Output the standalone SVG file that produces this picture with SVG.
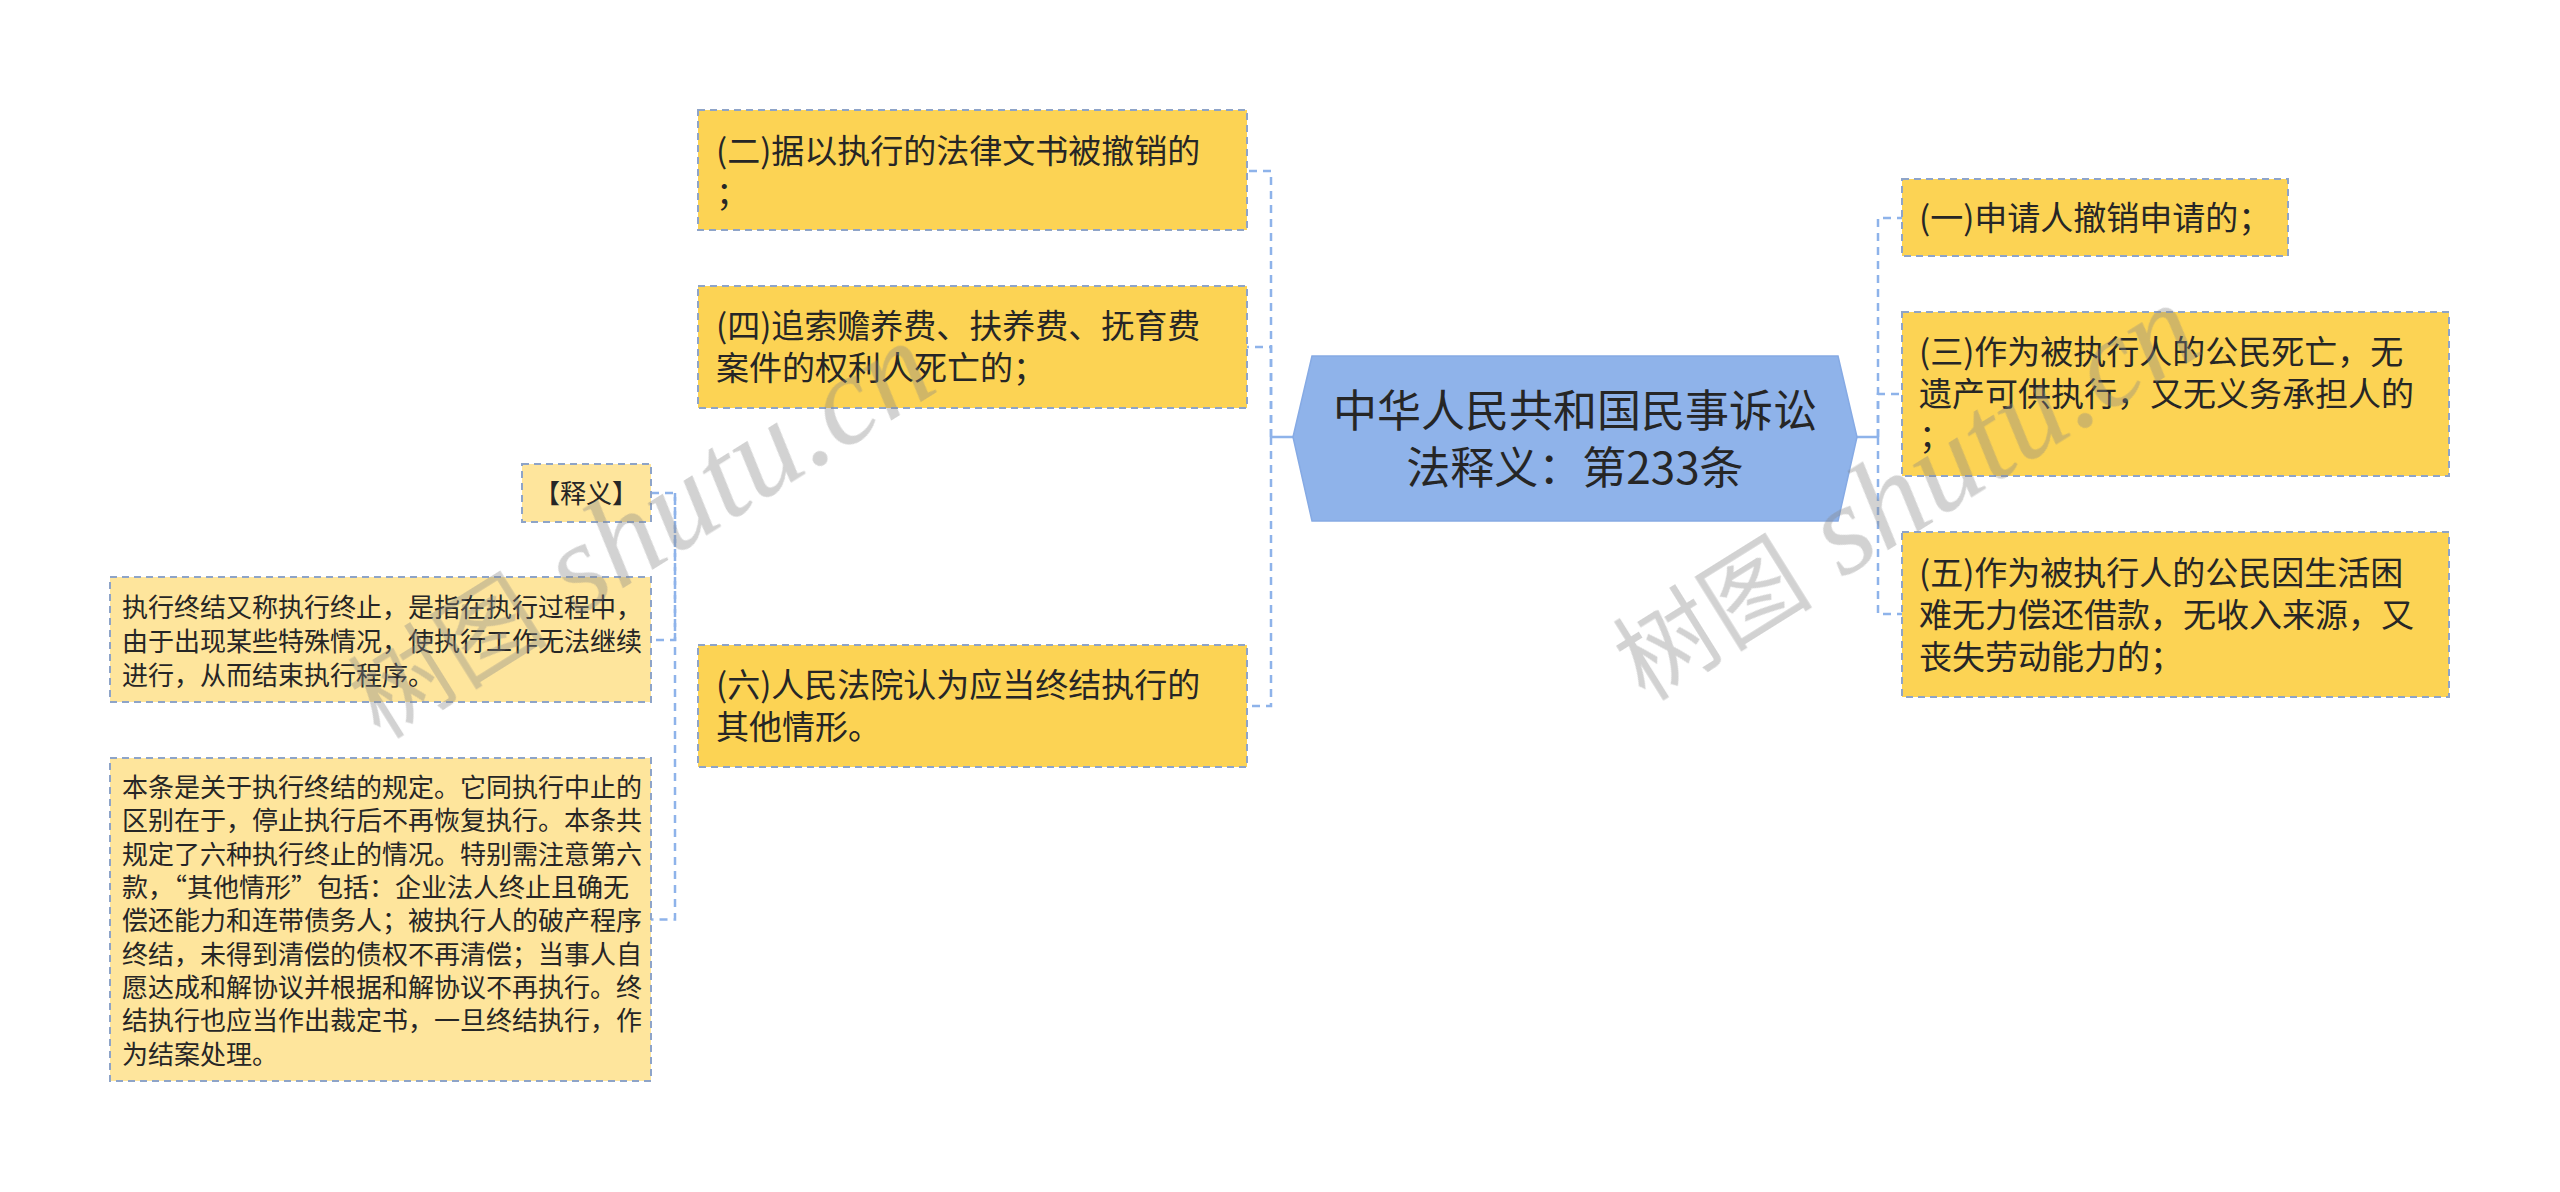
<svg xmlns="http://www.w3.org/2000/svg" width="2560" height="1192" viewBox="0 0 2560 1192">
<style>
text{font-family:'Noto Sans CJK SC','Noto Sans',sans-serif;fill:#262626;}
.t33{font-size:33px;}
.t26{font-size:26px;}
.t44{font-size:44px;}
.main{fill:#FCD354;stroke:#8EA4C8;stroke-width:2;stroke-dasharray:7 5;}
.light{fill:#FEE59C;stroke:#8EA4C8;stroke-width:2;stroke-dasharray:7 5;}
.root{fill:#8FB3EA;stroke:#86AAE4;stroke-width:1.5;}
.conn{fill:none;stroke:#8EB3EA;stroke-width:2.5;stroke-dasharray:8 6;}
.stub{fill:none;stroke:#8EB3EA;stroke-width:2.5;}
.wmc{font-family:'Noto Sans CJK SC',sans-serif;font-size:100px;fill:#888888;}
.wml{font-family:'Liberation Serif',serif;font-style:italic;font-size:128px;fill:#888888;}
</style>
<rect width="2560" height="1192" fill="#ffffff"/>
<g id="connectors">
<path class="stub" d="M1293,437 H1271"/>
<path class="conn" d="M1271,437 V171 H1247"/>
<path class="conn" d="M1271,437 V347 H1247"/>
<path class="conn" d="M1271,437 V706 H1247"/>
<path class="stub" d="M1857,437 H1878"/>
<path class="conn" d="M1878,437 V218 H1902"/>
<path class="conn" d="M1878,437 V394 H1902"/>
<path class="conn" d="M1878,437 V614 H1902"/>
<path class="conn" d="M651,493 H675 V640 H651"/>
<path class="conn" d="M675,493 V919.5 H651"/>
</g>
<g id="root">
<polygon class="root" points="1312,356 1838,356 1857,437 1838,521 1312,521 1293,437"/>
<text class="t44" text-anchor="middle"><tspan x="1575" y="427">中华人民共和国民事诉讼</tspan><tspan x="1575" y="484">法释义：第233条</tspan></text>
</g>
<g id="n2">
<rect class="main" x="698" y="110" width="549" height="120"/>
<text class="t33"><tspan x="716" y="163">(二)据以执行的法律文书被撤销的</tspan><tspan x="716" y="205">；</tspan></text>
</g>
<g id="n4">
<rect class="main" x="698" y="286" width="549" height="122"/>
<text class="t33"><tspan x="716" y="338">(四)追索赡养费、扶养费、抚育费</tspan><tspan x="716" y="380">案件的权利人死亡的；</tspan></text>
</g>
<g id="n6">
<rect class="main" x="698" y="645" width="549" height="122"/>
<text class="t33"><tspan x="716" y="697">(六)人民法院认为应当终结执行的</tspan><tspan x="716" y="739">其他情形。</tspan></text>
</g>
<g id="n1">
<rect class="main" x="1902" y="179" width="386" height="77"/>
<text class="t33"><tspan x="1919" y="230">(一)申请人撤销申请的；</tspan></text>
</g>
<g id="n3">
<rect class="main" x="1902" y="312" width="547" height="164"/>
<text class="t33"><tspan x="1919" y="364">(三)作为被执行人的公民死亡，无</tspan><tspan x="1919" y="406">遗产可供执行，又无义务承担人的</tspan><tspan x="1919" y="448">；</tspan></text>
</g>
<g id="n5">
<rect class="main" x="1902" y="532" width="547" height="165"/>
<text class="t33"><tspan x="1919" y="585">(五)作为被执行人的公民因生活困</tspan><tspan x="1919" y="627">难无力偿还借款，无收入来源，又</tspan><tspan x="1919" y="669">丧失劳动能力的；</tspan></text>
</g>
<g id="shiyi">
<rect class="light" x="522" y="464" width="129" height="58"/>
<text class="t26"><tspan x="534" y="503">【释义】</tspan></text>
</g>
<g id="note1">
<rect class="light" x="110" y="577" width="541" height="125"/>
<text class="t26"><tspan x="122" y="617">执行终结又称执行终止，是指在执行过程中，</tspan><tspan x="122" y="651">由于出现某些特殊情况，使执行工作无法继续</tspan><tspan x="122" y="685">进行，从而结束执行程序。</tspan></text>
</g>
<g id="note2">
<rect class="light" x="110" y="758" width="541" height="323"/>
<text class="t26"><tspan x="122" y="797">本条是关于执行终结的规定。它同执行中止的</tspan><tspan x="122" y="830">区别在于，停止执行后不再恢复执行。本条共</tspan><tspan x="122" y="863.5">规定了六种执行终止的情况。特别需注意第六</tspan><tspan x="122" y="897">款，“其他情形”包括：企业法人终止且确无</tspan><tspan x="122" y="930">偿还能力和连带债务人；被执行人的破产程序</tspan><tspan x="122" y="963.5">终结，未得到清偿的债权不再清偿；当事人自</tspan><tspan x="122" y="997">愿达成和解协议并根据和解协议不再执行。终</tspan><tspan x="122" y="1030">结执行也应当作出裁定书，一旦终结执行，作</tspan><tspan x="122" y="1063.5">为结案处理。</tspan></text>
</g>
<g id="watermarks" opacity="0.38">
<text transform="translate(380,740) rotate(-32)"><tspan class="wmc">树图</tspan><tspan class="wml"> shutu.cn</tspan></text>
<text transform="translate(1645,702) rotate(-32)"><tspan class="wmc">树图</tspan><tspan class="wml"> shutu.cn</tspan></text>
</g>
</svg>
